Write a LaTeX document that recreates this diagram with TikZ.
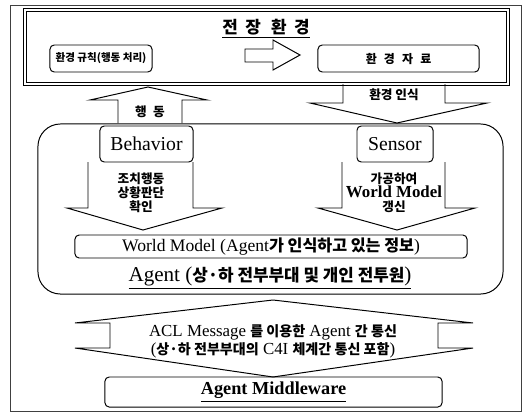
\documentclass[tikz,border=0pt]{standalone}
\usepackage{fontspec}
\setmainfont{Liberation Serif}
\newfontfamily\kr{Noto Sans CJK KR}
\usetikzlibrary{positioning}
\newcommand{\kb}[1]{{\kr\bfseries #1}}

\begin{document}
\begin{tikzpicture}[
        x=0.025cm, y=-0.025cm, line width=0.7pt,
        box/.style={draw, rounded corners=3pt, inner sep=0pt},
        blockarrow/.style={draw, line join=miter},
        txt/.style={inner sep=0pt, align=center},
        kor/.style={txt, font=\kr\bfseries\fontsize{9}{10}\selectfont}
    ]
        \useasboundingbox (0,0) rectangle (525,414);

        % frames
        \draw[line width=0.5pt, black!75] (10,5) rectangle (521,411);
        \draw[double, double distance=1.2pt, line width=0.5pt] (25,10) rectangle (508,84);
        \node[kor, font=\kr\bfseries\fontsize{12}{14}\selectfont] (field) at (266,29)
            {\underline{전\hspace{0.45em}장\hspace{0.6em}환\hspace{0.45em}경}};

        \node[box, minimum width=2.55cm, minimum height=0.675cm, font=\kr\bfseries\fontsize{7.5}{9}\selectfont] (rule) at (101,58.5) {환경 규칙(행동 처리)};
        \node[box, minimum width=4.025cm, minimum height=0.675cm, font=\kr\bfseries\fontsize{8.5}{9}\selectfont] (data) at (398.5,58.5)
            {환\hspace{0.6em}경\hspace{0.6em}자\hspace{0.6em}료};
        \draw[blockarrow] (245,49) -- (273,49) -- (273,40) -- (300,55) -- (273,70) -- (273,62) -- (245,62) -- cycle;

        % agent
        \node[draw, rounded corners=16pt, minimum width=11.625cm, minimum height=4.25cm] (agent) at (270.5,209) {};
        \node[box, minimum width=2.325cm, minimum height=0.9cm, font=\fontsize{14}{16}\selectfont] (behavior) at (146.5,144) {Behavior};
        \node[box, minimum width=1.9cm, minimum height=0.9cm, font=\fontsize{14}{16}\selectfont] (sensor) at (395,144) {Sensor};
        \node[box, minimum width=9.8cm, minimum height=0.575cm, font=\fontsize{12.5}{14}\selectfont] (world) at (271,246.5)
            {World Model (Agent\kb{\fontsize{11.5}{14}\selectfont 가 인식하고 있는 정보})};
        \node[txt, font=\fontsize{15}{17}\selectfont] (agentlbl) at (270,278)
            {\underline{Agent (\kb{\fontsize{12}{14}\selectfont 상·하 전부부대 및 개인 전투원})}};

        % act / sense
        \draw[blockarrow] (118,123) -- (118,100) -- (90,100) -- (148,87) -- (207,100) -- (182,100) -- (182,123);
        \node[kor] (act) at (150,112) {행\hspace{0.5em}동};
        \draw[blockarrow] (343,84) -- (343,103) -- (310,103) -- (397,123) -- (487,103) -- (445,103) -- (445,84);
        \node[kor] (sense) at (394,95) {환경 인식};

        \draw[blockarrow] (88,162) -- (88,208) -- (67,208) -- (143,230) -- (222,208) -- (193,208) -- (193,162);
        \node[kor, font=\kr\bfseries\fontsize{9}{10}\selectfont] (judge) at (141,193) {조치행동\\상황판단\\확인};
        \draw[blockarrow] (342,162) -- (342,208) -- (318,208) -- (397,230) -- (475,208) -- (445,208) -- (445,162);
        \node[txt, font=\bfseries\fontsize{12}{10}\selectfont] (update) at (394,193)
            {\kb{\fontsize{9}{10}\selectfont 가공하여}\\World Model\\\kb{\fontsize{9}{10}\selectfont 갱신}};

        % message
        \draw[blockarrow] (110,348) -- (110,323) -- (75,323) -- (273,300) -- (473,323) -- (438,323)
            -- (438,348) -- (473,348) -- (273,377) -- (75,348) -- cycle;
        \node[txt, font=\fontsize{12}{13}\selectfont] (acl) at (273,341)
            {ACL Message \kb{\fontsize{10}{12}\selectfont 를 이용한} Agent \kb{\fontsize{10}{12}\selectfont 간 통신}\\
             (\kb{\fontsize{10}{12}\selectfont 상·하 전부부대의} C4I \kb{\fontsize{10}{12}\selectfont 체계간 통신 포함})};

        \node[box, minimum width=8.425cm, minimum height=0.75cm, font=\bfseries\fontsize{13}{15}\selectfont] (middleware) at (273.5,392)
            {\underline{Agent Middleware}};
    \end{tikzpicture}
\end{document}
